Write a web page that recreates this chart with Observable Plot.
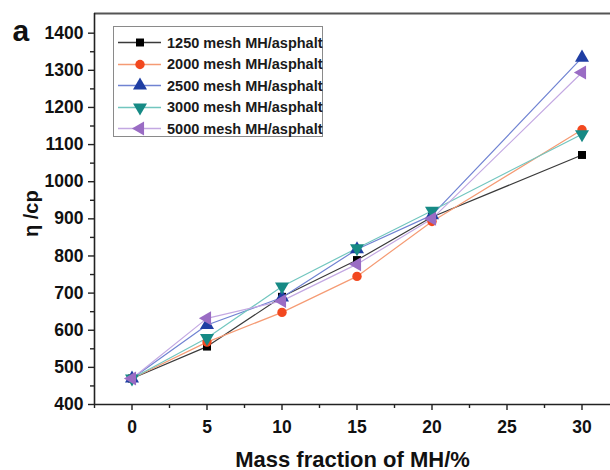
<!DOCTYPE html>
<html>
<head>
<meta charset="utf-8">
<script src="https://cdn.jsdelivr.net/npm/d3@7"></script>
<script src="https://cdn.jsdelivr.net/npm/@observablehq/plot@0.6"></script>
<style>
  body { margin: 0; background: #fff; }
  #wrap { position: relative; width: 610px; height: 470px; font-family: "Liberation Sans", Arial, sans-serif; }
  #legend { position: absolute; left: 113px; top: 26px; width: 210px; height: 111px; box-sizing: border-box;
            border: 1.5px solid #8a8a8a; background: #fff; padding-top: 5px; }
  .row { height: 21.5px; display: flex; align-items: center; }
  .row svg { width: 52px; height: 21px; flex: none; }
  .row span { font-size: 14.5px; font-weight: bold; color: #1a1a1a; margin-left: 1px; white-space: nowrap; }
</style>
</head>
<body>
<div id="wrap"></div>
<script>
// ---- data ----
const massFraction = [0, 5, 10, 15, 20, 30];
const seriesNames = ["1250 mesh MH/asphalt", "2000 mesh MH/asphalt", "2500 mesh MH/asphalt", "3000 mesh MH/asphalt", "5000 mesh MH/asphalt"];
const v1250 = [470, 556, 690, 789, 905, 1072];
const v2000 = [470, 568, 648, 745, 893, 1140];
const v2500 = [470, 614, 688, 818, 910, 1334];
const v3000 = [470, 579, 718, 821, 922, 1128];
const v5000 = [470, 632, 679, 778, 900, 1294];
const seriesValues = [v1250, v2000, v2500, v3000, v5000];
const xTicks = [0, 5, 10, 15, 20, 25, 30];
const xMinorTicks = [-2.5, 2.5, 7.5, 12.5, 17.5, 22.5, 27.5];
const yTicks = [400, 500, 600, 700, 800, 900, 1000, 1100, 1200, 1300, 1400];
const yMinorTicks = [450, 550, 650, 750, 850, 950, 1050, 1150, 1250, 1350];
const xTitle = "Mass fraction of MH/%";
const yTitle = "η /cp";
const panelLabel = "a";

// ---- styles ----
const markerColors = ["#000000", "#f2481f", "#1f3ea3", "#168a85", "#9a6cc4"];
const lineColors = ["#3a3a3a", "#f59b74", "#7083d2", "#72c6bf", "#c3a8e2"];
const sqrt3 = Math.sqrt(3);
const triDown = { draw(ctx, size) { const y = -Math.sqrt(size / (sqrt3 * 3)); ctx.moveTo(0, -y * 2); ctx.lineTo(-sqrt3 * y, y); ctx.lineTo(sqrt3 * y, y); ctx.closePath(); } };
const triLeft = { draw(ctx, size) { const y = -Math.sqrt(size / (sqrt3 * 3)); ctx.moveTo(y * 2, 0); ctx.lineTo(-y, -sqrt3 * y); ctx.lineTo(-y, sqrt3 * y); ctx.closePath(); } };
const symbols = [d3.symbolSquare, d3.symbolCircle, d3.symbolTriangle, triDown, triLeft];
const radii = [4.5, 4.7, 5.2, 5.2, 5.2];

const rows = seriesNames.map((name, s) => massFraction.map((x, i) => ({ x, y: seriesValues[s][i], series: name })));

const xDomain = [-2.5, 31.9];
const yDomain = [400, 1453];
const font = { fontSize: 17.5, fontWeight: "bold" };
const fmt = (d) => String(d);

const marks = [];
rows.forEach((r, s) => marks.push(Plot.line(r, { x: "x", y: "y", stroke: lineColors[s], strokeWidth: 1.2 })));
rows.forEach((r, s) => marks.push(Plot.dot(r, { x: "x", y: "y", symbol: symbols[s], r: radii[s], fill: markerColors[s], stroke: "none" })));

const chart = Plot.plot({
  width: 610,
  height: 470,
  marginLeft: 94,
  marginRight: 0,
  marginTop: 13,
  marginBottom: 66,
  style: { fontFamily: "Liberation Sans, Arial, sans-serif", color: "#111", background: "#fff", overflow: "visible" },
  x: { domain: xDomain, label: null },
  y: { domain: yDomain, label: null },
  marks: [
    Plot.axisX({ ticks: xTicks, tickFormat: fmt, tickSize: 6, tickPadding: 10, ...font, label: null, stroke: "#222", strokeWidth: 1.4 }),
    Plot.axisX({ ticks: xMinorTicks, tickSize: 4, text: null, label: null, stroke: "#222", strokeWidth: 1.4 }),
    Plot.axisY({ ticks: yTicks, tickFormat: fmt, tickSize: 6, tickPadding: 5, ...font, label: null, stroke: "#222", strokeWidth: 1.4 }),
    Plot.axisY({ ticks: yMinorTicks, tickSize: 4, text: null, label: null, stroke: "#222", strokeWidth: 1.4 }),
    Plot.ruleY([yDomain[1]], { stroke: "#555", strokeWidth: 2.2 }),
    Plot.ruleY([yDomain[0]], { stroke: "#222", strokeWidth: 1.6 }),
    Plot.ruleX([xDomain[0]], { stroke: "#222", strokeWidth: 1.6 }),
    ...marks,
    Plot.text([xTitle], { frameAnchor: "bottom", dy: 55, fontSize: 22, fontWeight: "bold", fill: "#111", lineAnchor: "middle" }),
    Plot.text([yTitle], { frameAnchor: "left", dx: -63, dy: 28, rotate: -90, fontSize: 20, fontWeight: "bold", fill: "#111", lineAnchor: "middle" }),
    Plot.text([panelLabel], { frameAnchor: "top-left", dx: -82, dy: 18, fontSize: 30, fontWeight: "bold", fill: "#111", textAnchor: "start", lineAnchor: "middle" })
  ]
});

const wrap = document.getElementById("wrap");
wrap.appendChild(chart);

// ---- legend ----
const legend = document.createElement("div");
legend.id = "legend";
seriesNames.forEach((name, s) => {
  const row = document.createElement("div");
  row.className = "row";
  const svg = d3.create("svg").attr("viewBox", "0 0 52 21");
  svg.append("line").attr("x1", 4).attr("x2", 47).attr("y1", 10.5).attr("y2", 10.5)
    .attr("stroke", lineColors[s]).attr("stroke-width", 1.5);
  svg.append("path").attr("transform", "translate(26,10.5)")
    .attr("d", d3.symbol().type(symbols[s]).size(Math.PI * radii[s] * radii[s])())
    .attr("fill", markerColors[s]);
  row.appendChild(svg.node());
  const span = document.createElement("span");
  span.textContent = name;
  row.appendChild(span);
  legend.appendChild(row);
});
wrap.appendChild(legend);
</script>
</body>
</html>
